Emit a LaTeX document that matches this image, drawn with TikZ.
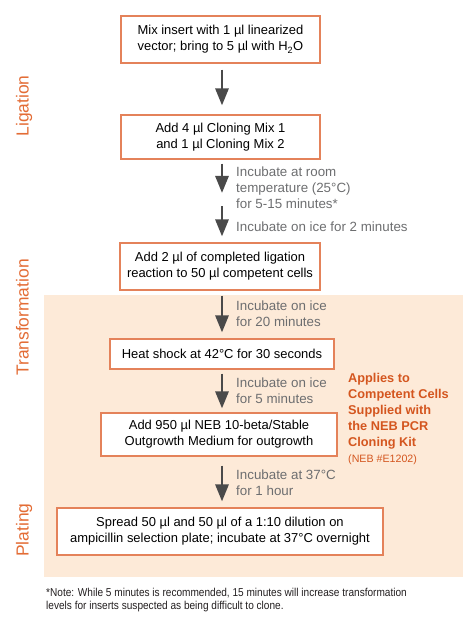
\documentclass[tikz,border=0pt]{standalone}
\usepackage{fontspec}
\setmainfont{Liberation Sans}
\newfontfamily\condfont[FakeStretch=0.88]{Liberation Sans}
\usetikzlibrary{arrows.meta,calc}
\definecolor{boxline}{HTML}{E4825A}
\definecolor{peach}{HTML}{FDEAD8}
\definecolor{arrgray}{HTML}{4A4A4A}
\definecolor{txtgray}{HTML}{6D6E70}
\definecolor{lblorange}{HTML}{E36C35}
\definecolor{sideorange}{HTML}{D4561F}
\definecolor{notecol}{HTML}{231F20}
\tikzset{
  stepbox/.style={draw=boxline, line width=1.1bp, fill=white, align=center, inner sep=0pt,
    font=\fontsize{13}{16}\selectfont, text=black},
  flowarr/.style={draw=arrgray, line width=2.8bp, -{Triangle[width=13bp,length=17bp]}},
  graytxt/.style={anchor=base west, inner sep=0pt, align=left, text=txtgray,
    font=\fontsize{13.4}{16}\selectfont},
  phase/.style={rotate=90, anchor=base, inner sep=0pt, text=lblorange,
    font=\fontsize{17.5}{20}\selectfont},
}
\begin{document}
\begin{tikzpicture}[x=1bp,y=-1bp]
\useasboundingbox (0,0) rectangle (476,624);
\fill[peach] (44,295) rectangle (463,577);
\coordinate (ax) at (222,0);
% boxes
\node[stepbox, minimum width=199bp, minimum height=47bp] (b1) at (220.5,39.5)
  {Mix insert with 1 µl linearized\\vector; bring to 5 µl with H\textsubscript{2}O};
\node[stepbox, minimum width=199bp, minimum height=44bp] (b2) at (220.5,137)
  {Add 4 µl Cloning Mix 1\\and 1 µl Cloning Mix 2};
\node[stepbox, minimum width=200bp, minimum height=47bp] (b3) at (220,266.5)
  {Add 2 µl of completed ligation\\reaction to 50 µl competent cells};
\node[stepbox, minimum width=224bp, minimum height=30bp] (b4) at (222,354)
  {Heat shock at 42°C for 30 seconds};
\node[stepbox, minimum width=236bp, minimum height=43bp] (b5) at (219,434.5)
  {Add 950 µl NEB 10-beta/Stable\\Outgrowth Medium for outgrowth};
\node[stepbox, minimum width=326bp, minimum height=47bp] (b6) at (220,531.5)
  {Spread 50 µl and 50 µl of a 1:10 dilution on\\ampicillin selection plate; incubate at 37°C overnight};
\coordinate (m1) at (222,193);
\coordinate (m2) at (222,206);
% arrows
\draw[flowarr, shorten <=6bp, shorten >=9bp] (b1.south -| ax) -- (b2.north -| ax);
\draw[flowarr, shorten <=4bp] (b2.south -| ax) -- (m1);
\draw[flowarr, shorten >=6bp] (m2) -- (b3.north -| ax);
\draw[flowarr, shorten <=5bp, shorten >=6bp] (b3.south -| ax) -- (b4.north -| ax);
\draw[flowarr, shorten <=4bp, shorten >=4bp] (b4.south -| ax) -- (b5.north -| ax);
\draw[flowarr, shorten <=9bp, shorten >=6bp] (b5.south -| ax) -- (b6.north -| ax);
% gray step texts (anchor = baseline of last line)
\node[graytxt] (t1) at (236,208.5) {Incubate at room\\temperature (25°C)\\for 5-15 minutes*};
\node[graytxt] (t2) at (236,231.5) {Incubate on ice for 2 minutes};
\node[graytxt] (t3) at (236,326) {Incubate on ice\\for 20 minutes};
\node[graytxt] (t4) at (236,403.5) {Incubate on ice\\for 5 minutes};
\node[graytxt] (t5) at (236,495) {Incubate at 37°C\\for 1 hour};
% side note
\node[anchor=base west, inner sep=0pt, align=left, text=sideorange,
  font=\fontsize{12.8}{16}\selectfont\bfseries] (side) at (348,446.5)
  {Applies to\\Competent Cells\\Supplied with\\the NEB PCR\\Cloning Kit};
\node[anchor=base west, inner sep=0pt, text=sideorange,
  font=\fontsize{10.7}{13}\selectfont] (sidecat) at (348,462.5) {(NEB \#E1202)};
% phase labels
\node[phase] (lig) at (28.5,106) {Ligation};
\node[phase] (trf) at (28.5,317.5) {Transformation};
\node[phase] (plt) at (28.5,530) {Plating};
% footnote
\node[anchor=base west, inner sep=0pt, align=left, text=notecol,
  font=\condfont\fontsize{11.5}{13.3}\selectfont] (note) at (46,609.8)
  {*Note: While 5 minutes is recommended, 15 minutes will increase transformation\\levels for inserts suspected as being difficult to clone.};
\end{tikzpicture}
\end{document}
